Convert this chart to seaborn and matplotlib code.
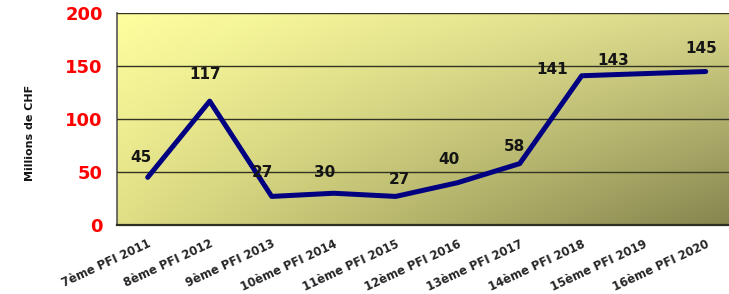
import numpy as np
import pandas as pd
import matplotlib
matplotlib.use("Agg")
import matplotlib.pyplot as plt
import matplotlib.colors as mcolors
import matplotlib.transforms as mtransforms
import seaborn as sns

categories = ["7ème PFI 2011", "8ème PFI 2012", "9ème PFI 2013", "10ème PFI 2014",
              "11ème PFI 2015", "12ème PFI 2016", "13ème PFI 2017", "14ème PFI 2018",
              "15ème PFI 2019", "16ème PFI 2020"]
values = [45, 117, 27, 30, 27, 40, 58, 141, 143, 145]
label_offsets = [(-5, 14.4), (-3.6, 19.4), (-7, 17), (-6.5, 15), (3, 12), (-6, 16.5),
                 (-4, 12), (-21.6, 4.3), (-22, 9.4), (-3.6, 16.5)]
yticks = [0, 50, 100, 150, 200]

sns.set_style("white")
plt.rcParams['font.family'] = ['DejaVu Sans']

W, H = 729, 294
fig = plt.figure(figsize=(W / 100, H / 100), dpi=100)
left, right, top, bottom = 116.7, 736.7, 13.3, 225
ax = fig.add_axes([left / W, 1 - bottom / H, (right - left) / W, (bottom - top) / H])

# gradient background (bilinear between corner colours)
nx, ny = 300, 120
gx = np.linspace(0, 1, nx)[None, :, None]
gy = np.linspace(0, 1, ny)[:, None, None]
tl = np.array(mcolors.to_rgb("#ffff9f"))
tr = np.array(mcolors.to_rgb("#d8d78a"))
bl = np.array(mcolors.to_rgb("#e0df86"))
br = np.array(mcolors.to_rgb("#84844e"))
img = (tl * (1 - gx) * (1 - gy) + tr * gx * (1 - gy) + bl * (1 - gx) * gy + br * gx * gy)
ax.imshow(img, extent=[0, 1, 0, 1], transform=ax.transAxes, origin="upper",
          aspect="auto", zorder=0)

df = pd.DataFrame({"cat": categories, "val": values, "x": np.arange(len(categories))})
sns.lineplot(data=df, x="x", y="val", ax=ax, color="#000080", linewidth=3.6,
             zorder=3, legend=False)

for i, (v, off) in enumerate(zip(values, label_offsets)):
    ax.annotate(str(v), (i, v), xytext=off, textcoords="offset points",
                ha="center", va="center", fontsize=11, fontweight="bold",
                color="#151515", zorder=4)

ax.set_xlim(-0.5, len(categories) - 0.5)
ax.set_ylim(0, 200)
ax.set_yticks(yticks)
ax.set_yticklabels([str(v) for v in yticks], color="#ff0000", fontsize=13,
                   fontweight="bold")
ax.yaxis.grid(True, color="#333322", linewidth=1.0, zorder=1)
ax.set_axisbelow(False)

ax.set_xticks(np.arange(len(categories)))
ax.set_xticklabels(categories, rotation=25, ha="right", rotation_mode="anchor",
                   fontsize=8.4, fontweight="bold")
shift = mtransforms.ScaledTranslation(-3 / 100, 0, fig.dpi_scale_trans)
for lbl in ax.get_xticklabels():
    lbl.set_transform(lbl.get_transform() + shift)
ax.set_xticks(np.arange(len(categories) + 1) - 0.5, minor=True)
ax.tick_params(axis="x", which="major", length=0, pad=9)
ax.tick_params(axis="x", which="minor", length=5, width=1, color="#555555", direction="out")
ax.tick_params(axis="y", length=6, width=1, color="#555555", direction="out", pad=4)
ax.set_xlabel("")
ax.set_ylabel("")
fig.text(30 / W, 1 - 133 / H, "Millions de CHF", rotation=90, ha="center", va="center",
         fontsize=8, fontweight="bold", color="#151515")

for s in ["top", "right"]:
    ax.spines[s].set_visible(False)
ax.spines["left"].set_color("#555555")
ax.spines["left"].set_linewidth(1.2)
ax.spines["bottom"].set_color("#2e2e22")
ax.spines["bottom"].set_linewidth(1.6)

fig.savefig("out.png", dpi=100)
